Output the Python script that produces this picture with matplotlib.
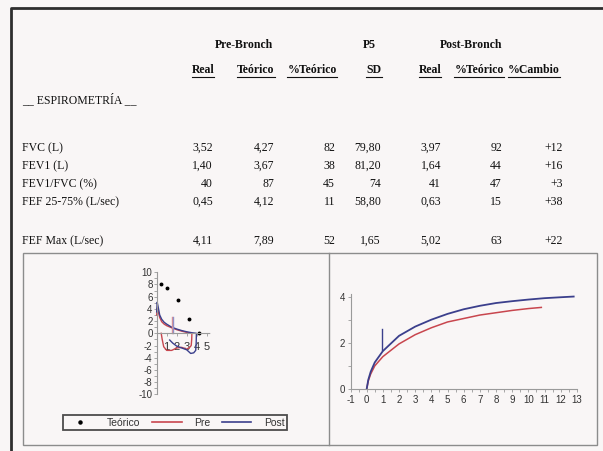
# -*- coding: utf-8 -*-
"""
Spirometry report: table of pre/post bronchodilator values with
flow-volume and volume-time curves underneath.
"""

import matplotlib.pyplot
import matplotlib.lines
import matplotlib.patches

# Table content.
row_labels = [
    "FVC (L)",
    "FEV1 (L)",
    "FEV1/FVC (%)",
    "FEF 25-75% (L/sec)",
    "FEF Max (L/sec)",
]
column_headers = ["Real", "Teórico", "%Teórico", "SD", "Real", "%Teórico", "%Cambio"]
pre_real = ["3,52", "1,40", "40", "0,45", "4,11"]
pre_teorico = ["4,27", "3,67", "87", "4,12", "7,89"]
pre_pct_teorico = ["82", "38", "45", "11", "52"]
p5_sd = ["79,80", "81,20", "74", "58,80", "1,65"]
post_real = ["3,97", "1,64", "41", "0,63", "5,02"]
post_pct_teorico = ["92", "44", "47", "15", "63"]
pct_cambio = ["+12", "+16", "+3", "+38", "+22"]

# Flow-volume curve: predicted points (volume, flow).
teorico_volume = [0.45, 1.07, 2.13, 3.20, 4.27]
teorico_flow = [8.0, 7.45, 5.4, 2.35, 0.0]

# Flow-volume curve: pre bronchodilator loop.
pre_fv_volume = [0.0, 0.05, 0.15, 0.3, 0.5, 0.75, 1.0, 1.5, 2.0, 2.5, 3.0, 3.52,
                 3.5, 3.45, 3.3, 3.0, 2.5, 2.0, 1.5, 1.0, 0.7, 0.55, 0.45]
pre_fv_flow = [3.0, 4.1, 3.6, 2.6, 1.9, 1.5, 1.25, 0.9, 0.6, 0.35, 0.15, 0.0,
               -1.0, -2.0, -2.3, -2.6, -2.3, -2.4, -2.8, -2.8, -2.2, -1.0, 0.0]

# Flow-volume curve: post bronchodilator loop.
post_fv_volume = [0.0, 0.05, 0.15, 0.3, 0.5, 0.75, 1.0, 1.5, 2.0, 2.5, 3.0, 3.5, 3.97,
                  3.95, 3.9, 3.7, 3.4, 3.0, 2.5, 2.0, 1.6, 1.3]
post_fv_flow = [3.5, 5.1, 4.3, 3.0, 2.3, 1.8, 1.5, 1.0, 0.7, 0.45, 0.25, 0.1, 0.0,
                -1.5, -2.8, -3.2, -3.3, -2.7, -2.4, -2.1, -1.6, -1.1]

# Volume-time curves (seconds, litres).
pre_vt_time = [0.0, 0.1, 0.25, 0.5, 1.0, 2.0, 3.0, 4.0, 5.0, 6.0, 7.0, 8.0, 9.0, 10.0, 10.8]
pre_vt_volume = [0.0, 0.35, 0.65, 1.0, 1.40, 1.95, 2.35, 2.65, 2.9, 3.05, 3.2, 3.3, 3.4, 3.48, 3.53]
post_vt_time = [0.0, 0.1, 0.25, 0.5, 1.0, 2.0, 3.0, 4.0, 5.0, 6.0, 7.0, 8.0, 9.0, 10.0, 11.0, 12.0, 12.8]
post_vt_volume = [0.0, 0.4, 0.75, 1.15, 1.64, 2.3, 2.7, 3.0, 3.25, 3.45, 3.6, 3.72, 3.8, 3.87, 3.93, 3.97, 4.0]

# Page geometry in pixels of the scanned report.
width_px, height_px = 603, 451


def fx(x):
    return x / width_px


def fy(y):
    return 1 - y / height_px


# The report prints plain hyphens for negative numbers.
matplotlib.pyplot.rcParams["axes.unicode_minus"] = False

red = "#c8464e"
blue = "#3b3f8c"
paper = "#f9f6f6"
serif = ["Liberation Serif", "DejaVu Serif"]
sans = ["Liberation Sans", "DejaVu Sans"]

fig = matplotlib.pyplot.figure(figsize=(width_px / 100, height_px / 100), dpi=100)
fig.patch.set_facecolor(paper)

# Outer page frame (top and left edges visible).
fig.add_artist(matplotlib.lines.Line2D(
    [fx(11), fx(11), 1], [0, fy(8), fy(8)], color="#2e2e2e", linewidth=2))

# Header rows of the table.
group_headers = [("Pre-Bronch", 244), ("P5", 369), ("Post-Bronch", 471)]
for text, x in group_headers:
    fig.text(fx(x), fy(45), text, ha="center", va="center", fontsize=8.5,
             fontweight="bold", family=serif, color="#111")

header_centers = [203, 256, 312, 374, 430, 479, 534]
header_texts = []
for text, x in zip(column_headers, header_centers):
    header_texts.append(fig.text(fx(x), fy(70), text, ha="center", va="center",
                                 fontsize=8.5, fontweight="bold", family=serif,
                                 color="#111"))

fig.text(fx(22), fy(100), "__ ESPIROMETRÍA __", ha="left", va="center",
         fontsize=8.5, family=serif, color="#111")

# Table body.
row_y = [148, 166, 184, 202, 241]
column_right = [213, 274, 335, 381, 441, 502, 563]
columns = [pre_real, pre_teorico, pre_pct_teorico, p5_sd, post_real,
           post_pct_teorico, pct_cambio]
for i, label in enumerate(row_labels):
    fig.text(fx(22), fy(row_y[i]), label, ha="left", va="center", fontsize=8.5,
             family=serif, color="#111")
    for values, x in zip(columns, column_right):
        fig.text(fx(x), fy(row_y[i]), values[i], ha="right", va="center",
                 fontsize=8.5, family=serif, color="#111")

# Underline the column headers.
renderer = fig.canvas.get_renderer()
for t in header_texts:
    box = t.get_window_extent(renderer)
    y = (box.y0 - 0.5) / fig.bbox.height
    fig.add_artist(matplotlib.lines.Line2D(
        [box.x0 / fig.bbox.width, box.x1 / fig.bbox.width], [y, y],
        color="#111", linewidth=0.8))

# Box around the two charts and the divider between them.
fig.add_artist(matplotlib.patches.Rectangle(
    (fx(23), fy(445)), fx(597) - fx(23), fy(253) - fy(445), fill=False,
    edgecolor="#8c8c8c", linewidth=1))
fig.add_artist(matplotlib.lines.Line2D(
    [fx(329), fx(329)], [fy(445), fy(253)], color="#8c8c8c", linewidth=1))

# Flow-volume chart.
ax1 = fig.add_axes([fx(150), fy(398), fx(215) - fx(150), fy(268) - fy(398)])
ax1.set_facecolor("none")
ax1.set_xlim(-0.67, 5.83)
ax1.set_ylim(-10.6, 10.7)
ax1.plot(pre_fv_volume, pre_fv_flow, color=red, linewidth=1.0)
ax1.plot(post_fv_volume, post_fv_flow, color=blue, linewidth=1.0)
ax1.plot([1.5, 1.5], [0, 2.7], color="#e09090", linewidth=1)
ax1.plot([1.6, 1.6], [0, 2.7], color="#9090c8", linewidth=1)
ax1.plot(teorico_volume, teorico_flow, "o", color="black", markersize=1.8)
for side in ["top", "right"]:
    ax1.spines[side].set_visible(False)
ax1.spines["left"].set_position("zero")
ax1.spines["bottom"].set_position("zero")
ax1.spines["left"].set_bounds(-10, 10)
ax1.spines["bottom"].set_bounds(0, 5.3)
for side in ["left", "bottom"]:
    ax1.spines[side].set_color("#9a9a9a")
    ax1.spines[side].set_linewidth(0.8)
    ax1.spines[side].set_linestyle((0, (2, 1)))
ax1.set_yticks(range(-10, 11, 2))
ax1.set_yticks(range(-10, 11), minor=True)
ax1.set_xticks([1, 2, 3, 4, 5])
ax1.tick_params(axis="y", which="both", length=2, width=0.6, color="#999",
                pad=1, labelsize=7, labelcolor="#333")
ax1.tick_params(axis="x", length=2, width=0.6, color="#999", pad=4,
                labelsize=8, labelcolor="#333")
for label in ax1.get_xticklabels() + ax1.get_yticklabels():
    label.set_family(sans)

# Legend of the flow-volume chart.
handles = [
    matplotlib.lines.Line2D([], [], linestyle="none", marker="o", markersize=2.2,
                            color="black", label="Teórico"),
    matplotlib.lines.Line2D([], [], color=red, linewidth=1.2, label="Pre"),
    matplotlib.lines.Line2D([], [], color=blue, linewidth=1.2, label="Post"),
]
legend = fig.legend(handles=handles, ncol=3, mode="expand",
                    bbox_to_anchor=(fx(63), fy(432), fx(287) - fx(63), fy(413) - fy(432)),
                    loc="center", frameon=True, fancybox=False,
                    borderpad=0.25, handlelength=2.8, handletextpad=1.2,
                    borderaxespad=0, prop={"family": sans, "size": 7.5})
legend.get_frame().set_edgecolor("#222")
legend.get_frame().set_linewidth(1.3)
legend.get_frame().set_facecolor(paper)
for t in legend.get_texts():
    t.set_color("#333")

# Volume-time chart.
ax2 = fig.add_axes([fx(350.5), fy(389), fx(585) - fx(350.5), fy(288) - fy(389)])
ax2.set_facecolor("none")
ax2.set_xlim(-1.0, 13.5)
ax2.set_ylim(0, 4.37)
ax2.plot(pre_vt_time, pre_vt_volume, color=red, linewidth=1.1)
ax2.plot(post_vt_time, post_vt_volume, color=blue, linewidth=1.3)
ax2.plot([0.97, 0.97], [1.67, 2.6], color=blue, linewidth=1)
for side in ["top", "right"]:
    ax2.spines[side].set_visible(False)
ax2.spines["left"].set_bounds(0, 4.1)
ax2.spines["bottom"].set_bounds(-1, 13)
for side in ["left", "bottom"]:
    ax2.spines[side].set_color("#9a9a9a")
    ax2.spines[side].set_linewidth(0.8)
ax2.set_xticks(range(-1, 14))
ax2.set_xticks([x / 2 for x in range(-2, 27)], minor=True)
ax2.set_yticks([0, 2, 4])
ax2.set_yticks([1, 3], minor=True)
ax2.tick_params(which="both", length=2, width=0.6, color="#999", pad=2,
                labelsize=7, labelcolor="#333")
for label in ax2.get_xticklabels() + ax2.get_yticklabels():
    label.set_family(sans)

fig.savefig("out.png", dpi=100, facecolor=paper)
